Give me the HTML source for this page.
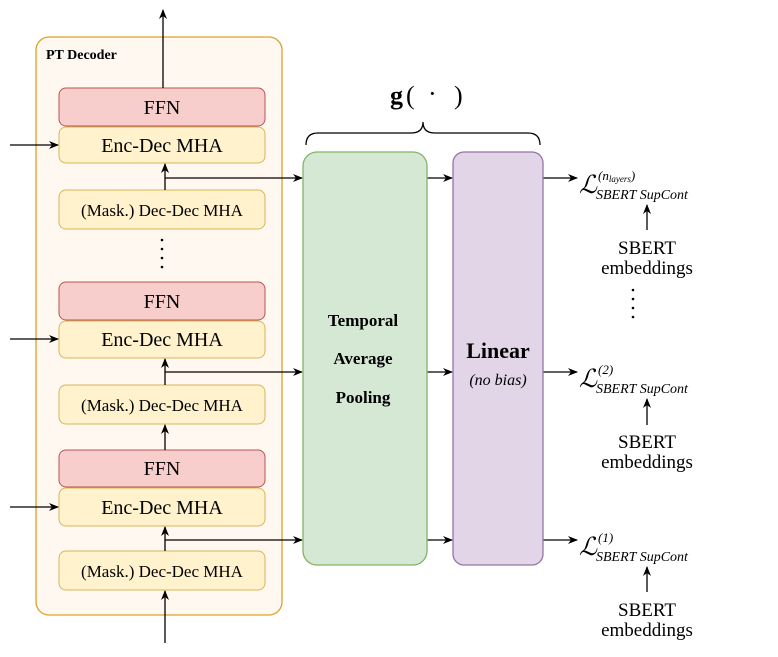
<!DOCTYPE html>
<html><head><meta charset="utf-8"><style>
html,body{margin:0;padding:0;background:#fff;}
svg{display:block;font-family:"Liberation Serif",serif;}
</style></head><body>
<svg width="778" height="657" viewBox="0 0 778 657" xmlns="http://www.w3.org/2000/svg">
<defs><marker id="a" markerWidth="10" markerHeight="10" refX="9" refY="5" orient="auto" markerUnits="userSpaceOnUse"><path d="M0,1 L10,5 L0,9 L3,5 Z" fill="#000"/></marker></defs>
<rect x="36" y="37" width="246" height="578" rx="13" fill="#fff8f1" stroke="#d9a326" stroke-width="1.3"/>
<text x="46" y="59" font-size="14" font-weight="bold">PT Decoder</text>
<g font-size="20" text-anchor="middle">
<rect x="59" y="88" width="206" height="38" rx="7" fill="#f8cecc" stroke="#b85450"/><text x="162" y="114">FFN</text>
<rect x="59" y="127" width="206" height="36" rx="7" fill="#fff2cc" stroke="#d6b656"/><text x="162" y="152">Enc-Dec MHA</text>
<rect x="59" y="190" width="206" height="39" rx="7" fill="#fff2cc" stroke="#d6b656"/><text x="162" y="216" font-size="17">(Mask.) Dec-Dec MHA</text>
<rect x="59" y="282" width="206" height="38" rx="7" fill="#f8cecc" stroke="#b85450"/><text x="162" y="308">FFN</text>
<rect x="59" y="321" width="206" height="37" rx="7" fill="#fff2cc" stroke="#d6b656"/><text x="162" y="346">Enc-Dec MHA</text>
<rect x="59" y="385" width="206" height="39" rx="7" fill="#fff2cc" stroke="#d6b656"/><text x="162" y="411" font-size="17">(Mask.) Dec-Dec MHA</text>
<rect x="59" y="450" width="206" height="37" rx="7" fill="#f8cecc" stroke="#b85450"/><text x="162" y="475">FFN</text>
<rect x="59" y="488" width="206" height="38" rx="7" fill="#fff2cc" stroke="#d6b656"/><text x="162" y="514">Enc-Dec MHA</text>
<rect x="59" y="551" width="206" height="39" rx="7" fill="#fff2cc" stroke="#d6b656"/><text x="162" y="577" font-size="17">(Mask.) Dec-Dec MHA</text>
</g>
<g fill="#000"><circle cx="162" cy="240" r="1.3"/><circle cx="162" cy="249" r="1.3"/><circle cx="162" cy="258" r="1.3"/><circle cx="162" cy="267" r="1.3"/>
<circle cx="633" cy="290" r="1.3"/><circle cx="633" cy="299" r="1.3"/><circle cx="633" cy="308" r="1.3"/><circle cx="633" cy="317" r="1.3"/></g>
<g stroke="#000" stroke-width="1.3" fill="none" marker-end="url(#a)">
<line x1="163" y1="88" x2="163" y2="10"/>
<line x1="10" y1="145" x2="58" y2="145"/><line x1="10" y1="339" x2="58" y2="339"/><line x1="10" y1="507" x2="58" y2="507"/>
<line x1="165" y1="190" x2="165" y2="164"/><line x1="165" y1="385" x2="165" y2="359"/><line x1="165" y1="450" x2="165" y2="425"/><line x1="165" y1="551" x2="165" y2="527"/>
<line x1="165" y1="643" x2="165" y2="591"/>
<line x1="165" y1="178" x2="302" y2="178"/><line x1="165" y1="372" x2="302" y2="372"/><line x1="165" y1="540" x2="302" y2="540"/>
<line x1="427" y1="178" x2="452" y2="178"/><line x1="427" y1="372" x2="452" y2="372"/><line x1="427" y1="540" x2="452" y2="540"/>
<line x1="543" y1="178" x2="577" y2="178"/><line x1="543" y1="372" x2="577" y2="372"/><line x1="543" y1="540" x2="577" y2="540"/>
<line x1="647" y1="230" x2="647" y2="205"/><line x1="647" y1="425" x2="647" y2="399"/><line x1="647" y1="592" x2="647" y2="567"/>
</g>
<rect x="303" y="152" width="124" height="413" rx="14" fill="#d5e8d4" stroke="#82b366" stroke-width="1.3"/>
<g font-size="17" font-weight="bold" text-anchor="middle"><text x="363" y="326">Temporal</text><text x="363" y="364">Average</text><text x="363" y="403">Pooling</text></g>
<rect x="453" y="152" width="90" height="413" rx="11" fill="#e1d5e7" stroke="#9673a6" stroke-width="1.3"/>
<text x="498" y="358" font-size="22" font-weight="bold" text-anchor="middle">Linear</text>
<text x="498" y="385" font-size="16" font-style="italic" text-anchor="middle">(no bias)</text>
<path d="M306,145 Q306,133 318,133 L411,133 Q423,133 423,122 Q423,133 435,133 L528,133 Q540,133 540,145" fill="none" stroke="#000" stroke-width="1.3"/>
<text x="390" y="104" font-size="26" font-weight="bold">g</text><text x="406" y="104" font-size="26">(</text><text x="428" y="102" font-size="26">·</text><text x="454" y="104" font-size="26">)</text>
<g>
<text x="579" y="193" font-size="25" font-style="italic">ℒ</text><text x="598" y="180" font-size="13" font-style="italic">(n<tspan font-size="9" dy="2">layers</tspan><tspan dy="-2">)</tspan></text><text x="596" y="199" font-size="14" font-style="italic">SBERT SupCont</text>
<text x="579" y="387" font-size="25" font-style="italic">ℒ</text><text x="598" y="374" font-size="13" font-style="italic">(2)</text><text x="596" y="393" font-size="14" font-style="italic">SBERT SupCont</text>
<text x="579" y="555" font-size="25" font-style="italic">ℒ</text><text x="598" y="542" font-size="13" font-style="italic">(1)</text><text x="596" y="561" font-size="14" font-style="italic">SBERT SupCont</text>
</g>
<g font-size="19" text-anchor="middle">
<text x="647" y="254">SBERT</text><text x="647" y="274">embeddings</text>
<text x="647" y="448">SBERT</text><text x="647" y="468">embeddings</text>
<text x="647" y="616">SBERT</text><text x="647" y="636">embeddings</text>
</g>
</svg>
</body></html>
